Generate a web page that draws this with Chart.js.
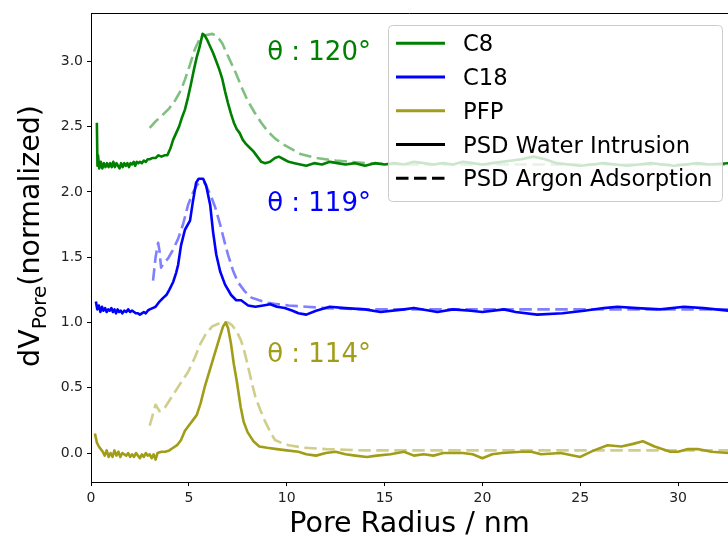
<!DOCTYPE html>
<html>
<head>
<meta charset="utf-8">
<script src="https://cdn.jsdelivr.net/npm/chart.js@4/dist/chart.umd.min.js"></script>
<style>
  body { margin: 0; background: #fff; }
  canvas { display: block; }
</style>
</head>
<body>
<canvas id="psd" width="728" height="542"></canvas>
<script>
// tick values
const xTicks = [0, 5, 10, 15, 20, 25, 30];
const yTicks = [0, 0.5, 1.0, 1.5, 2.0, 2.5, 3.0];

// series names
const samples = ['C8', 'C18', 'PFP'];
const methods = ['PSD Water Intrusion', 'PSD Argon Adsorption'];
const angleLabels = ['θ : 120°', 'θ : 119°', 'θ : 114°'];

// [pore radius nm, dV normalized]
const c8Water = [[0.3,2.53],[0.33,2.20],[0.36,2.28],[0.42,2.18],[0.5,2.23],[0.58,2.18],[0.66,2.22],[0.74,2.19],[0.82,2.22],[0.9,2.19],[0.98,2.22],[1.06,2.19],[1.14,2.23],[1.22,2.19],[1.3,2.22],[1.38,2.20],[1.46,2.18],[1.54,2.22],[1.62,2.19],[1.7,2.22],[1.78,2.20],[1.86,2.22],[1.94,2.19],[2.02,2.22],[2.1,2.21],[2.18,2.23],[2.26,2.20],[2.34,2.23],[2.42,2.22],[2.5,2.23],[2.6,2.22],[2.7,2.24],[2.8,2.23],[2.9,2.25],[3.0,2.25],[3.15,2.26],[3.3,2.26],[3.45,2.28],[3.6,2.27],[3.75,2.28],[3.9,2.28],[4.05,2.33],[4.2,2.40],[4.35,2.45],[4.5,2.50],[4.65,2.57],[4.8,2.63],[4.95,2.72],[5.1,2.82],[5.25,2.93],[5.4,3.03],[5.55,3.11],[5.7,3.21],[5.8,3.20],[5.95,3.16],[6.1,3.11],[6.25,3.06],[6.4,3.00],[6.55,2.94],[6.7,2.87],[6.85,2.77],[7.0,2.68],[7.15,2.60],[7.3,2.53],[7.45,2.48],[7.6,2.45],[7.75,2.40],[7.9,2.37],[8.1,2.34],[8.3,2.31],[8.5,2.27],[8.7,2.23],[8.9,2.22],[9.15,2.23],[9.4,2.26],[9.6,2.27],[9.85,2.25],[10.1,2.23],[10.4,2.22],[10.7,2.21],[11.0,2.20],[11.4,2.22],[11.8,2.21],[12.2,2.23],[12.6,2.22],[13.0,2.21],[13.5,2.22],[14.0,2.20],[14.5,2.22],[15.0,2.21],[15.5,2.22],[16.0,2.21],[16.5,2.23],[17.0,2.22],[17.5,2.21],[18.0,2.22],[18.5,2.21],[19.0,2.23],[19.5,2.22],[20.0,2.21],[20.5,2.22],[21.0,2.23],[21.5,2.24],[22.0,2.25],[22.6,2.27],[23.2,2.25],[23.8,2.22],[24.4,2.21],[25.0,2.20],[25.6,2.21],[26.2,2.22],[26.8,2.21],[27.4,2.20],[28.0,2.21],[28.6,2.22],[29.2,2.21],[29.8,2.20],[30.4,2.21],[31.0,2.22],[31.6,2.21],[32.6,2.22]];
const c8Argon = [[3.0,2.49],[3.3,2.54],[3.6,2.58],[4.0,2.64],[4.3,2.70],[4.6,2.78],[4.8,2.86],[5.05,2.97],[5.3,3.09],[5.55,3.17],[5.85,3.20],[6.2,3.21],[6.45,3.19],[6.7,3.14],[7.0,3.04],[7.4,2.91],[7.7,2.80],[8.0,2.70],[8.35,2.61],[8.7,2.53],[9.05,2.46],[9.4,2.41],[9.75,2.37],[10.1,2.34],[10.7,2.29],[11.5,2.26],[12.5,2.24],[14.0,2.22],[16.0,2.21],[20.0,2.21],[25.0,2.21],[30.0,2.21],[32.6,2.21]];

const c18Water = [[0.25,1.16],[0.32,1.10],[0.4,1.13],[0.48,1.08],[0.56,1.12],[0.64,1.09],[0.72,1.11],[0.8,1.08],[0.88,1.10],[0.96,1.09],[1.04,1.11],[1.12,1.08],[1.2,1.10],[1.28,1.07],[1.36,1.10],[1.44,1.08],[1.52,1.09],[1.6,1.07],[1.7,1.09],[1.8,1.08],[1.9,1.10],[2.0,1.08],[2.1,1.09],[2.2,1.08],[2.3,1.07],[2.4,1.07],[2.5,1.06],[2.6,1.07],[2.7,1.08],[2.8,1.07],[2.9,1.09],[3.0,1.10],[3.15,1.11],[3.3,1.12],[3.5,1.16],[3.7,1.19],[3.85,1.21],[4.0,1.25],[4.2,1.31],[4.35,1.38],[4.45,1.44],[4.6,1.59],[4.8,1.71],[5.06,1.78],[5.2,1.92],[5.37,2.07],[5.5,2.10],[5.73,2.10],[5.88,2.05],[6.09,1.90],[6.24,1.69],[6.4,1.52],[6.6,1.39],[6.85,1.29],[7.16,1.21],[7.42,1.17],[7.67,1.17],[8.03,1.13],[8.4,1.12],[8.8,1.13],[9.16,1.14],[9.5,1.12],[9.9,1.11],[10.3,1.09],[10.6,1.07],[11.0,1.06],[11.5,1.09],[12.2,1.12],[13.0,1.11],[14.0,1.10],[14.8,1.08],[16.0,1.10],[16.5,1.11],[17.7,1.08],[18.5,1.10],[19.4,1.09],[20.0,1.08],[21.1,1.10],[21.7,1.08],[22.8,1.06],[24.1,1.07],[25.2,1.09],[26.2,1.11],[26.9,1.12],[27.9,1.11],[29.1,1.10],[30.3,1.12],[31.3,1.11],[32.6,1.09]];
const c18Argon = [[3.17,1.32],[3.3,1.50],[3.43,1.61],[3.5,1.55],[3.58,1.42],[3.75,1.46],[3.94,1.49],[4.2,1.56],[4.45,1.64],[4.7,1.75],[4.96,1.90],[5.2,1.99],[5.4,2.05],[5.6,2.08],[5.8,2.07],[6.1,1.98],[6.35,1.88],[6.6,1.75],[6.8,1.63],[7.0,1.52],[7.25,1.40],[7.5,1.31],[7.85,1.24],[8.2,1.19],[8.6,1.17],[9.05,1.15],[9.5,1.14],[10.1,1.13],[11.0,1.12],[12.0,1.11],[14.0,1.10],[20.0,1.10],[25.0,1.10],[30.0,1.10],[32.6,1.10]];

const pfpWater = [[0.2,0.15],[0.3,0.08],[0.4,0.05],[0.5,0.03],[0.6,0.01],[0.7,-0.02],[0.8,0.02],[0.9,-0.03],[1.0,0.00],[1.1,-0.03],[1.2,0.02],[1.3,-0.02],[1.4,0.01],[1.5,-0.03],[1.6,0.00],[1.7,-0.01],[1.8,-0.02],[1.9,0.00],[2.0,-0.03],[2.1,-0.01],[2.2,-0.03],[2.3,0.00],[2.4,-0.02],[2.5,-0.04],[2.6,-0.01],[2.7,-0.03],[2.8,0.00],[2.9,-0.02],[3.0,-0.01],[3.1,-0.04],[3.2,-0.01],[3.3,-0.05],[3.4,0.00],[3.6,0.01],[3.8,0.01],[4.0,0.02],[4.2,0.04],[4.4,0.06],[4.6,0.10],[4.8,0.17],[5.0,0.21],[5.2,0.25],[5.4,0.29],[5.6,0.38],[5.8,0.50],[6.0,0.60],[6.2,0.70],[6.4,0.80],[6.6,0.90],[6.75,0.97],[6.88,1.00],[7.0,0.96],[7.15,0.84],[7.3,0.68],[7.45,0.55],[7.65,0.35],[7.8,0.24],[8.0,0.16],[8.3,0.09],[8.6,0.05],[9.0,0.04],[9.5,0.03],[10.0,0.02],[10.6,0.01],[11.0,-0.01],[11.5,-0.02],[12.0,0.00],[12.5,0.01],[13.0,-0.01],[13.5,-0.02],[14.1,-0.03],[14.6,-0.02],[15.3,-0.01],[16.0,0.01],[16.5,-0.02],[17.0,-0.01],[17.5,-0.02],[18.0,0.00],[19.0,0.00],[19.5,-0.01],[20.0,-0.04],[20.5,-0.01],[21.0,0.00],[22.0,0.01],[22.5,0.01],[23.0,-0.01],[24.0,0.00],[25.0,-0.03],[25.7,0.02],[26.4,0.06],[27.1,0.05],[27.7,0.07],[28.2,0.09],[28.8,0.05],[29.6,0.01],[30.0,0.01],[30.5,0.03],[31.0,0.03],[31.7,0.01],[32.6,0.00]];
const pfpArgon = [[3.0,0.21],[3.3,0.37],[3.5,0.32],[3.7,0.33],[4.0,0.40],[4.3,0.47],[4.6,0.54],[4.96,0.62],[5.3,0.73],[5.6,0.84],[5.9,0.92],[6.2,0.97],[6.5,0.99],[6.75,1.00],[7.0,1.00],[7.2,0.98],[7.45,0.93],[7.67,0.86],[7.85,0.77],[8.0,0.68],[8.2,0.55],[8.4,0.43],[8.65,0.33],[8.9,0.24],[9.2,0.15],[9.4,0.10],[9.7,0.08],[10.1,0.06],[10.9,0.04],[12.0,0.03],[14.0,0.02],[20.0,0.02],[25.0,0.02],[30.0,0.02],[32.6,0.02]];

const colors = ['#008000', '#0000ff', '#a29d18'];
const fades = ['rgba(0,128,0,0.5)', 'rgba(0,0,255,0.5)', 'rgba(162,157,24,0.5)'];
const dash = [12.5, 5.5];

const pts = arr => arr.map(p => ({ x: p[0], y: p[1] }));

function line(label, arr, color, dashed) {
  return {
    label: label,
    data: pts(arr),
    borderColor: color,
    borderWidth: 2.6,
    borderDash: dashed ? dash : [],
    borderJoinStyle: 'round',
    pointRadius: 0,
    tension: 0,
    fill: false
  };
}

// top spine, angle labels, y title with subscript, legend box
const decor = {
  id: 'decor',
  afterDraw(chart) {
    const { ctx, chartArea: a, scales: { x, y } } = chart;
    ctx.save();
    ctx.strokeStyle = '#000';
    ctx.lineWidth = 1;
    ctx.beginPath();
    ctx.moveTo(a.left, a.top + 0.5);
    ctx.lineTo(a.right, a.top + 0.5);
    ctx.stroke();

    // contact angle labels
    const anchorY = [3.01, 1.853, 0.697];
    ctx.font = '26px "DejaVu Sans"';
    ctx.textAlign = 'left';
    ctx.textBaseline = 'alphabetic';
    angleLabels.forEach((t, i) => {
      ctx.fillStyle = colors[i];
      ctx.fillText(t, x.getPixelForValue(9.0), y.getPixelForValue(anchorY[i]));
    });

    // y axis title: dV_Pore(normalized)
    const big = '28.5px "DejaVu Sans"', small = '20px "DejaVu Sans"';
    ctx.font = big;
    const w1 = ctx.measureText('dV').width;
    const w3 = ctx.measureText('(normalized)').width;
    ctx.font = small;
    const w2 = ctx.measureText('Pore').width;
    const total = w1 + w2 + w3;
    ctx.translate(39, 236);
    ctx.rotate(-Math.PI / 2);
    ctx.fillStyle = '#000';
    let cx = -total / 2;
    ctx.font = big;
    ctx.fillText('dV', cx, 0);
    cx += w1;
    ctx.font = small;
    ctx.fillText('Pore', cx, 7);
    cx += w2;
    ctx.font = big;
    ctx.fillText('(normalized)', cx, 0);
    ctx.setTransform(1, 0, 0, 1, 0, 0);

    // legend
    const bx = 388.5, by = 25.5, bw = 334, bh = 176, r = 4;
    ctx.beginPath();
    ctx.moveTo(bx + r, by);
    ctx.arcTo(bx + bw, by, bx + bw, by + bh, r);
    ctx.arcTo(bx + bw, by + bh, bx, by + bh, r);
    ctx.arcTo(bx, by + bh, bx, by, r);
    ctx.arcTo(bx, by, bx + bw, by, r);
    ctx.closePath();
    ctx.fillStyle = 'rgba(255,255,255,0.8)';
    ctx.fill();
    ctx.strokeStyle = '#cccccc';
    ctx.lineWidth = 1;
    ctx.stroke();

    const items = samples.map((s, i) => ({ text: s, color: colors[i], dashed: false }))
      .concat([{ text: methods[0], color: '#000', dashed: false },
               { text: methods[1], color: '#000', dashed: true }]);
    ctx.font = '22.7px "DejaVu Sans"';
    items.forEach((it, i) => {
      const ry = 43.3 + i * 33.75;
      ctx.strokeStyle = it.color;
      ctx.lineWidth = 3;
      ctx.setLineDash(it.dashed ? dash : []);
      ctx.beginPath();
      ctx.moveTo(396, ry);
      ctx.lineTo(445, ry);
      ctx.stroke();
      ctx.setLineDash([]);
      ctx.fillStyle = '#000';
      ctx.fillText(it.text, 463, ry + 8);
    });
    ctx.restore();
  }
};

Chart.defaults.font.family = '"DejaVu Sans"';

new Chart(document.getElementById('psd').getContext('2d'), {
  type: 'line',
  data: {
    datasets: [
      line(samples[0] + ' ' + methods[0], c8Water, colors[0], false),
      line(samples[0] + ' ' + methods[1], c8Argon, fades[0], true),
      line(samples[1] + ' ' + methods[0], c18Water, colors[1], false),
      line(samples[1] + ' ' + methods[1], c18Argon, fades[1], true),
      line(samples[2] + ' ' + methods[0], pfpWater, colors[2], false),
      line(samples[2] + ' ' + methods[1], pfpArgon, fades[2], true)
    ]
  },
  options: {
    responsive: false,
    animation: false,
    devicePixelRatio: 1,
    layout: { padding: { top: 13, right: 0, left: 0, bottom: 0 } },
    plugins: {
      legend: { display: false },
      tooltip: { enabled: false }
    },
    scales: {
      x: {
        type: 'linear',
        min: 0,
        max: 32.55,
        afterBuildTicks: s => { s.ticks = xTicks.map(v => ({ value: v })); },
        afterFit: s => { s.height = 60; },
        ticks: { color: '#222', font: { size: 14 }, padding: 4, maxRotation: 0, callback: v => String(v) },
        grid: { display: true, drawOnChartArea: false, drawTicks: true, tickLength: 4, color: '#000' },
        border: { display: true, color: '#000', width: 1 },
        title: { display: true, text: 'Pore Radius / nm', color: '#000', font: { size: 28.5 }, padding: { top: 0, bottom: 0 } }
      },
      y: {
        type: 'linear',
        min: -0.222,
        max: 3.37,
        afterBuildTicks: s => { s.ticks = yTicks.map(v => ({ value: v })); },
        afterFit: s => { s.width = 91; },
        ticks: { color: '#222', font: { size: 14 }, padding: 4, callback: v => v.toFixed(1) },
        grid: { display: true, drawOnChartArea: false, drawTicks: true, tickLength: 4, color: '#000' },
        border: { display: true, color: '#000', width: 1 }
      }
    }
  },
  plugins: [decor]
});
</script>
</body>
</html>
